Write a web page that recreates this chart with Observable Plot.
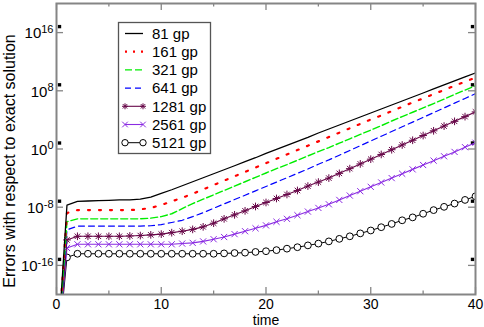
<!DOCTYPE html>
<html><head><meta charset="utf-8">
<script src="https://cdn.jsdelivr.net/npm/d3@7"></script>
<script src="https://cdn.jsdelivr.net/npm/@observablehq/plot@0.6"></script>
<style>
body{margin:0;background:#fff}
#chart{position:relative;width:484px;height:327px}
</style>
</head><body><div id="chart"></div>
<script>
// time axis (one value per integer time unit)
const time = [0,1,2,3,4,5,6,7,8,9,10,11,12,13,14,15,16,17,18,19,20,21,22,23,24,25,26,27,28,29,30,31,32,33,34,35,36,37,38,39,40];
// log10 of the error for each grid (value at t=0 lies far below the chart)
const err81   = [-30,-7.7,-7.2,-7.15,-7.1,-7.05,-7.0,-7.0,-6.9,-6.6,-6.1,-5.6,-5.05,-4.5,-3.95,-3.4,-2.85,-2.3,-1.75,-1.2,-0.6,-0.05,0.5,1.05,1.6,2.2,2.75,3.3,3.85,4.4,4.95,5.5,6.05,6.6,7.15,7.7,8.25,8.8,9.35,9.9,10.45];
const err161  = [-30,-8.8,-8.4,-8.4,-8.4,-8.4,-8.4,-8.4,-8.3,-8.1,-7.7,-7.2,-6.7,-6.15,-5.55,-4.95,-4.35,-3.75,-3.15,-2.55,-1.95,-1.35,-0.75,-0.15,0.45,1.05,1.65,2.25,2.85,3.45,4.05,4.6,5.2,5.8,6.4,6.95,7.55,8.1,8.7,9.25,9.8];
const err321  = [-30,-10.0,-9.6,-9.6,-9.6,-9.6,-9.6,-9.6,-9.6,-9.5,-9.3,-8.9,-8.2,-7.5,-6.9,-6.3,-5.7,-5.1,-4.5,-3.9,-3.3,-2.7,-2.15,-1.55,-0.95,-0.35,0.2,0.8,1.4,2.0,2.6,3.2,3.85,4.45,5.05,5.65,6.25,6.85,7.5,8.1,8.7];
const err641  = [-30,-11.1,-10.6,-10.6,-10.6,-10.6,-10.6,-10.6,-10.6,-10.55,-10.4,-10.1,-9.8,-9.3,-8.75,-8.15,-7.55,-6.95,-6.35,-5.75,-5.15,-4.55,-3.95,-3.35,-2.75,-2.1,-1.5,-0.85,-0.2,0.45,1.1,1.75,2.4,3.05,3.7,4.35,5.0,5.65,6.3,6.95,7.6];
const err1281 = [-30,-12.5,-12.0,-12.0,-12.0,-12.0,-12.0,-11.95,-11.9,-11.8,-11.7,-11.5,-11.3,-11.05,-10.7,-10.2,-9.6,-9.05,-8.5,-7.9,-7.35,-6.8,-6.25,-5.7,-5.1,-4.55,-4.0,-3.35,-2.7,-2.05,-1.4,-0.75,-0.1,0.55,1.2,1.85,2.5,3.15,3.8,4.45,5.1];
const err2561 = [-30,-13.6,-13.1,-13.1,-13.1,-13.1,-13.1,-13.1,-13.1,-13.1,-13.1,-13.1,-13.0,-12.9,-12.7,-12.4,-12.1,-11.7,-11.3,-10.9,-10.5,-10.0,-9.6,-9.1,-8.6,-8.1,-7.6,-7.0,-6.4,-5.8,-5.2,-4.6,-4.0,-3.4,-2.8,-2.2,-1.6,-1.0,-0.4,0.25,0.86];
const err5121 = [-30,-14.9,-14.4,-14.4,-14.4,-14.4,-14.4,-14.4,-14.4,-14.4,-14.4,-14.4,-14.4,-14.4,-14.4,-14.4,-14.35,-14.3,-14.25,-14.15,-14.05,-13.9,-13.7,-13.5,-13.25,-13.0,-12.7,-12.35,-12.0,-11.6,-11.2,-10.75,-10.3,-9.8,-9.4,-8.9,-8.4,-7.95,-7.5,-7.0,-6.5];

const labels = ["81 gp","161 gp","321 gp","641 gp","1281 gp","2561 gp","5121 gp"];
const xMajor = [0,10,20,30,40];
const xMinor = [5,15,25,35];
const yExp = [-16,-8,0,8,16];

const styles = [
  {values: err81,   color:"#000000", dash:null,  width:1.3, sym:null},
  {values: err161,  color:"#ff0000", dash:"2,9", width:2.2, sym:null},
  {values: err321,  color:"#00ee00", dash:"7,3", width:1.4, sym:null},
  {values: err641,  color:"#0000ff", dash:"6,4", width:1.2, sym:null},
  {values: err1281, color:"#670748", dash:null,  width:1.1, sym:"star"},
  {values: err2561, color:"#8a2be2", dash:null,  width:1.1, sym:"times"},
  {values: err5121, color:"#000000", dash:null,  width:1.0, sym:"circle"}
];
const rowsOf = v => time.map((t,i) => ({t, e: Math.pow(10, v[i])}));

const W = 484, H = 327, mL = 56, mR = 9, mT = 3, mB = 33;
const pw = W - mL - mR, ph = H - mT - mB;
const gray = "#858585";
const FONT = "'Liberation Sans', Arial, sans-serif";

const marks = [];
// inward ticks
marks.push(Plot.tickX(xMajor, {x: d=>d, stroke: gray, strokeWidth: 1.3, insetTop: ph - 7}));
marks.push(Plot.tickX(xMinor, {x: d=>d, stroke: gray, strokeWidth: 1.3, insetTop: ph - 3.5}));
marks.push(Plot.tickX(xMajor, {x: d=>d, stroke: gray, strokeWidth: 1.3, insetBottom: ph - 7}));
marks.push(Plot.tickX(xMinor, {x: d=>d, stroke: gray, strokeWidth: 1.3, insetBottom: ph - 3.5}));
marks.push(Plot.tickY(yExp, {y: d=>Math.pow(10,d), stroke: gray, strokeWidth: 1.3, insetRight: pw - 7}));
marks.push(Plot.tickY(yExp, {y: d=>Math.pow(10,d), stroke: gray, strokeWidth: 1.3, insetLeft: pw - 7}));
// small black squares near the y ticks
marks.push(Plot.dot(yExp, {y: d=>Math.pow(10,d), frameAnchor:"left", symbol:"square", r:1.9, fill:"black", dx:3, dy:-6}));
marks.push(Plot.dot(yExp, {y: d=>Math.pow(10,d), frameAnchor:"right", symbol:"square", r:1.9, fill:"black", dx:-3, dy:-6}));

for (let k = styles.length - 1; k >= 0; k--) {
  const s = styles[k];
  const rows = rowsOf(s.values);
  marks.push(Plot.line(rows, {x:"t", y:"e", stroke:s.color, strokeWidth:s.width, strokeDasharray:s.dash, clip:true}));
  const pts = rows.filter(d => d.t >= 1);
  if (s.sym === "star") {
    marks.push(Plot.dot(pts, {x:"t", y:"e", symbol:"plus", r:2.6, stroke:s.color, fill:"none", strokeWidth:1, clip:true}));
    marks.push(Plot.dot(pts, {x:"t", y:"e", symbol:"times", r:2.6, stroke:s.color, fill:"none", strokeWidth:1, clip:true}));
  } else if (s.sym === "times") {
    marks.push(Plot.dot(pts, {x:"t", y:"e", symbol:"times", r:2.9, stroke:s.color, fill:"none", strokeWidth:1, clip:true}));
  } else if (s.sym === "circle") {
    marks.push(Plot.dot(pts, {x:"t", y:"e", symbol:"circle", r:3.4, stroke:s.color, fill:"white", strokeWidth:1, clip:true}));
  }
}
marks.push(Plot.frame({stroke: gray, strokeWidth: 2}));
marks.push(Plot.axisX(xMajor, {label: null, tickSize:0, tickPadding:5, fontSize:14, tickFormat: d => String(d)}));
marks.push(Plot.axisY(yExp.map(d=>Math.pow(10,d)), {label: null, tickSize:0, tickPadding:3, fontSize:15, dy:1,
  tickFormat: d => "10|" + Math.round(Math.log10(d))}));
marks.push(Plot.text(["time"], {frameAnchor:"bottom", textAnchor:"middle", lineAnchor:"middle", dy:26, fontSize:14}));
marks.push(Plot.text(["Errors with respect to exact solution"], {frameAnchor:"left", textAnchor:"middle", lineAnchor:"middle", rotate:-90, dx:-47, dy:12, fontSize:16}));

const chart = Plot.plot({
  width: W, height: H,
  marginLeft: mL, marginRight: mR, marginTop: mT, marginBottom: mB,
  style: {fontFamily: FONT, fontSize: "14px", background: "white", color: "black"},
  x: {domain: [0, 40], axis: null, label: null},
  y: {type: "log", domain: [1e-20, 1e20], axis: null, label: null},
  marks
});
document.getElementById("chart").appendChild(chart);

const svg = d3.select(chart);
// superscript exponents on y tick labels
svg.selectAll('g[aria-label="y-axis tick label"] text').each(function(){
  const t = d3.select(this);
  const parts = t.text().split("|");
  if (parts.length === 2) {
    t.text(parts[0]);
    t.append("tspan").attr("dy","-0.5em").style("font-size","11px").text(parts[1]);
  }
});

// legend
const lg = svg.append("g");
lg.append("rect").attr("x",118.5).attr("y",22.5).attr("width",92).attr("height",131)
  .attr("fill","white").attr("stroke","#555").attr("stroke-width",1.3);
styles.forEach((s,i) => {
  const y = 33.5 + i*18.2;
  lg.append("line").attr("x1",125).attr("x2",143).attr("y1",y).attr("y2",y)
    .attr("stroke",s.color).attr("stroke-width",s.width)
    .attr("stroke-dasharray", s.dash === "2,9" ? "2,6" : s.dash);
  [125,143].forEach(x => {
    if (s.sym === "star") {
      lg.append("path").attr("d", "M-3,0H3M0,-3V3M-2.2,-2.2L2.2,2.2M-2.2,2.2L2.2,-2.2").attr("transform",`translate(${x},${y})`).attr("stroke",s.color).attr("fill","none").attr("stroke-width",1);
    } else if (s.sym === "times") {
      lg.append("path").attr("d", "M-2.8,-2.8L2.8,2.8M-2.8,2.8L2.8,-2.8").attr("transform",`translate(${x},${y})`).attr("stroke",s.color).attr("fill","none").attr("stroke-width",1);
    } else if (s.sym === "circle") {
      lg.append("circle").attr("cx",x).attr("cy",y).attr("r",3.2).attr("stroke",s.color).attr("fill","white");
    }
  });
  lg.append("text").attr("x",152).attr("y",y).attr("dy","0.35em")
    .attr("text-anchor","start")
    .style("font-family",FONT).style("font-size","15px").style("fill","black")
    .text(labels[i]);
});
</script>
</body></html>
